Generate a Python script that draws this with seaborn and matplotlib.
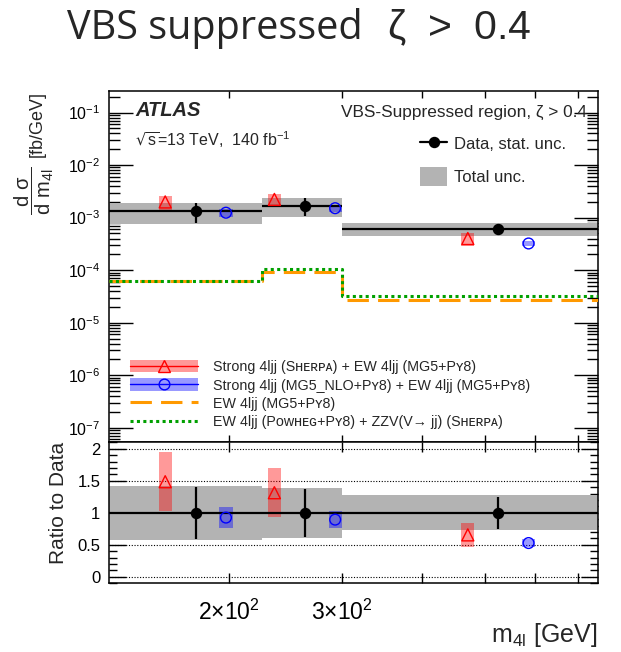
import numpy as np
import pandas as pd
import matplotlib
matplotlib.use("Agg")
import matplotlib.pyplot as plt
import seaborn as sns
from matplotlib.ticker import FixedLocator, FixedFormatter, NullLocator, NullFormatter, LogLocator, LogFormatterSciNotation
from matplotlib.patches import Patch
from matplotlib.lines import Line2D

# ---------------- data ----------------
bin_edges = [130, 225, 300, 750]
bin_centers = [177.5, 262.5, 525]
data_xsec = [1.34e-3, 1.69e-3, 6.1e-4]
data_stat_rel = [0.41, 0.37, 0.25]
data_total_rel = [0.425, 0.39, 0.27]
sherpa_xsec = [1.99e-3, 2.22e-3, 4.0e-4]
sherpa_rel_unc = [0.31, 0.29, 0.28]
mg5nlo_xsec = [1.24e-3, 1.51e-3, 3.22e-4]
mg5nlo_rel_unc = [0.17, 0.15, 0.115]
ew_mg5 = [6.2e-5, 9.25e-5, 2.7e-5]
ew_powheg = [6.3e-5, 1.05e-4, 3.2e-5]
ratio_ticks = [0, 0.5, 1, 1.5, 2]
ratio_tick_labels = ["0", "0.5", "1", "1.5", "2"]
ratio_minor_ticks = [k / 10 for k in range(-1, 22) if k % 5 != 0]
x_major_ticks = [200, 300, 400, 500, 600, 700]
x_tick_labels = ["2×10$^{2}$", "3×10$^{2}$", "", "", "", ""]

legend_labels = [
    "Strong 4ljj (Sʜᴇʀᴘᴀ) + EW 4ljj (MG5+Pʏ8)",
    "Strong 4ljj (MG5_NLO+Pʏ8) + EW 4ljj (MG5+Pʏ8)",
    "EW 4ljj (MG5+Pʏ8)",
    "EW 4ljj (Pᴏᴡʜᴇɢ+Pʏ8) + ZZV(V→ jj) (Sʜᴇʀᴘᴀ)",
]

# ---------------- style ----------------
sns.set_theme(style="ticks")
plt.rcParams["font.family"] = ["Liberation Sans", "DejaVu Sans"]
plt.rcParams["mathtext.default"] = "regular"
plt.rcParams["axes.linewidth"] = 1.1
plt.rcParams["axes.edgecolor"] = "black"

RED = "#ff0000"
BLUE = "#0000ff"
GREY = "#b3b3b3"
ORANGE = "#ff9900"
GREEN = "#00a000"
OFF = 1.115      # marker offset factor (log x)
BOXW = 1.024     # half-width factor of model boxes (log x)

df = pd.DataFrame({
    "lo": bin_edges[:-1], "hi": bin_edges[1:], "x": bin_centers,
    "data": data_xsec, "stat": data_stat_rel, "tot": data_total_rel,
    "sh": sherpa_xsec, "sh_u": sherpa_rel_unc,
    "mg": mg5nlo_xsec, "mg_u": mg5nlo_rel_unc,
})
df["sh_r"] = df["sh"] / df["data"]
df["mg_r"] = df["mg"] / df["data"]
df["x_sh"] = df["x"] / OFF
df["x_mg"] = df["x"] * OFF

fig = plt.figure(figsize=(6.21, 6.52), dpi=100)
ax = fig.add_axes([0.175, 0.3216, 0.7875, 0.5393])
rax = fig.add_axes([0.175, 0.1054, 0.7875, 0.2162], sharex=ax)

# ---------------- top panel ----------------
for _, r in df.iterrows():
    ax.fill_between([r.lo, r.hi], r.data * (1 - r.tot), r.data * (1 + r.tot),
                    color=GREY, lw=0, zorder=1)
    ax.fill_between([r.x_sh / BOXW, r.x_sh * BOXW], r.sh * (1 - r.sh_u), r.sh * (1 + r.sh_u),
                    color=RED, alpha=0.4, lw=0, zorder=2)
    ax.fill_between([r.x_mg / BOXW, r.x_mg * BOXW], r.mg * (1 - r.mg_u), r.mg * (1 + r.mg_u),
                    color=BLUE, alpha=0.4, lw=0, zorder=2)

step_x = bin_edges
sns.lineplot(x=step_x, y=ew_mg5 + [ew_mg5[-1]], ax=ax, drawstyle="steps-post",
             color=ORANGE, lw=2.2, linestyle=(0, (7, 3)), sort=False,
             estimator=None, zorder=3)
sns.lineplot(x=step_x, y=ew_powheg + [ew_powheg[-1]], ax=ax, drawstyle="steps-post",
             color=GREEN, lw=2.2, linestyle=(0, (1, 1.1)), sort=False,
             estimator=None, zorder=4)

ax.errorbar(df["x"], df["data"],
            xerr=[df["x"] - df["lo"], df["hi"] - df["x"]],
            yerr=[df["data"] * df["stat"], df["data"] * df["stat"]],
            fmt="o", color="black", ms=7.2, lw=1.6, capsize=0, zorder=6)
sns.scatterplot(x=df["x_sh"], y=df["sh"], ax=ax, marker="^", s=75,
                facecolor="none", edgecolor=RED, linewidth=1.0, zorder=7)
sns.scatterplot(x=df["x_mg"], y=df["mg"], ax=ax, marker="o", s=60,
                facecolor="none", edgecolor=BLUE, linewidth=1.0, zorder=7)

ax.set_xscale("log")
ax.set_yscale("log")
ax.set_xlim(bin_edges[0], bin_edges[-1])
ax.set_ylim(5.3e-8, 0.26)
ax.xaxis.set_major_locator(FixedLocator(x_major_ticks))
ax.xaxis.set_minor_locator(NullLocator())
ax.yaxis.set_major_locator(LogLocator(base=10, numticks=20))
ax.yaxis.set_minor_locator(LogLocator(base=10, subs=np.arange(2, 10), numticks=20))
ax.yaxis.set_major_formatter(LogFormatterSciNotation())
ax.yaxis.set_minor_formatter(NullFormatter())
ax.tick_params(axis="both", which="both", direction="in", top=True, right=True,
               colors="black", width=1.0)
ax.tick_params(axis="y", which="major", length=17, labelsize=11.5, pad=6)
ax.tick_params(axis="y", which="minor", length=8)
ax.tick_params(axis="x", which="major", length=5, labelbottom=False)
ax.set_xlabel("")
ax.set_ylabel("[fb/GeV]", fontsize=13, loc="top")
ax.yaxis.set_label_coords(-0.128, 1.0)
fig.text(34 / 621, 1 - 191 / 652, r"$\dfrac{d\ \sigma}{d\ m_{4l}}$", fontsize=14.5,
         rotation=90, ha="center", va="center")

ax.text(0.054, 0.945, "ATLAS", transform=ax.transAxes, fontsize=14.5,
        fontweight="bold", style="italic", va="center", ha="left")
ax.text(0.054, 0.86, r"$\sqrt{s}$=13 TeV,  140 fb$^{-1}$", transform=ax.transAxes,
        fontsize=11.5, va="center", ha="left")
ax.text(0.978, 0.939, "VBS-Suppressed region, ζ > 0.4", transform=ax.transAxes,
        fontsize=12.4, va="center", ha="right")

h_data = Line2D([], [], color="black", marker="o", ms=7.2, lw=1.6)
h_tot = Patch(facecolor=GREY, edgecolor="none")
leg1 = ax.legend([h_data, h_tot], ["Data, stat. unc.", "Total unc."],
                 loc="upper left", bbox_to_anchor=(0.637, 0.876), frameon=False,
                 fontsize=12, handlelength=1.6, handleheight=1.35, handletextpad=0.4,
                 labelspacing=0.85, borderpad=0, borderaxespad=0)
ax.add_artist(leg1)

h_sh = (Patch(facecolor=RED, alpha=0.4, edgecolor="none"),
        Line2D([], [], color=RED, lw=1.0, marker="^", ms=8.5, mfc="none", mec=RED))
h_mg = (Patch(facecolor=BLUE, alpha=0.4, edgecolor="none"),
        Line2D([], [], color=BLUE, lw=1.0, marker="o", ms=7.7, mfc="none", mec=BLUE))
h_ew1 = Line2D([], [], color=ORANGE, lw=2.2, linestyle=(0, (7, 3)))
h_ew2 = Line2D([], [], color=GREEN, lw=2.2, linestyle=(0, (1, 1.1)))
leg2 = ax.legend([h_sh, h_mg, h_ew1, h_ew2], legend_labels,
                 loc="lower left", bbox_to_anchor=(0.0436, 0.037), frameon=False,
                 fontsize=10.3, handlelength=4.75, handleheight=0.95, handletextpad=1.05,
                 labelspacing=0.3, borderpad=0, borderaxespad=0)

# ---------------- ratio panel ----------------
for _, r in df.iterrows():
    rax.fill_between([r.lo, r.hi], 1 - r.tot, 1 + r.tot, color=GREY, lw=0, zorder=1)
    rax.fill_between([r.x_sh / BOXW, r.x_sh * BOXW], r.sh_r * (1 - r.sh_u), r.sh_r * (1 + r.sh_u),
                     color=RED, alpha=0.4, lw=0, zorder=2)
    rax.fill_between([r.x_mg / BOXW, r.x_mg * BOXW], r.mg_r * (1 - r.mg_u), r.mg_r * (1 + r.mg_u),
                     color=BLUE, alpha=0.4, lw=0, zorder=2)

for t in ratio_ticks:
    rax.axhline(t, color="black", lw=0.8, linestyle=(0, (1, 1.5)), zorder=0.5)

rax.errorbar(df["x"], np.ones(len(df)),
             xerr=[df["x"] - df["lo"], df["hi"] - df["x"]],
             yerr=[df["stat"], df["stat"]],
             fmt="o", color="black", ms=7.2, lw=1.6, capsize=0, zorder=6)
sns.scatterplot(x=df["x_sh"], y=df["sh_r"], ax=rax, marker="^", s=75,
                facecolor="none", edgecolor=RED, linewidth=1.0, zorder=7)
sns.scatterplot(x=df["x_mg"], y=df["mg_r"], ax=rax, marker="o", s=60,
                facecolor="none", edgecolor=BLUE, linewidth=1.0, zorder=7)

rax.set_xscale("log")
rax.set_xlim(bin_edges[0], bin_edges[-1])
rax.set_ylim(-0.1, 2.1)
rax.xaxis.set_major_locator(FixedLocator(x_major_ticks))
rax.xaxis.set_major_formatter(FixedFormatter(x_tick_labels))
rax.xaxis.set_minor_locator(NullLocator())
rax.yaxis.set_major_locator(FixedLocator(ratio_ticks))
rax.yaxis.set_major_formatter(FixedFormatter(ratio_tick_labels))
rax.yaxis.set_minor_locator(FixedLocator(ratio_minor_ticks))
rax.yaxis.set_minor_formatter(NullFormatter())
rax.tick_params(axis="both", which="both", direction="in", top=True, right=True,
                colors="black", width=1.0)
rax.tick_params(axis="y", which="major", length=12, labelsize=12, pad=6)
rax.tick_params(axis="y", which="minor", length=6)
rax.tick_params(axis="x", which="major", length=7, labelsize=16.5, pad=12)
rax.set_ylabel("Ratio to Data", fontsize=15, loc="top")
rax.yaxis.set_label_coords(-0.083, 1.0)
rax.set_xlabel("m$_{4l}$ [GeV]", fontsize=18, loc="right")
rax.xaxis.set_label_coords(1.0, -0.27)

fig.text(66.7 / 621, 1 - 39.3 / 652, "VBS suppressed", fontsize=28.5,
         family="Open Sans", ha="left", va="baseline")
fig.text(387 / 621, 1 - 39.3 / 652, r"$\zeta\;\;>\;\;0.4$", fontsize=29.5,
         math_fontfamily="stix", ha="left", va="baseline")

fig.savefig("out.png", dpi=100)
